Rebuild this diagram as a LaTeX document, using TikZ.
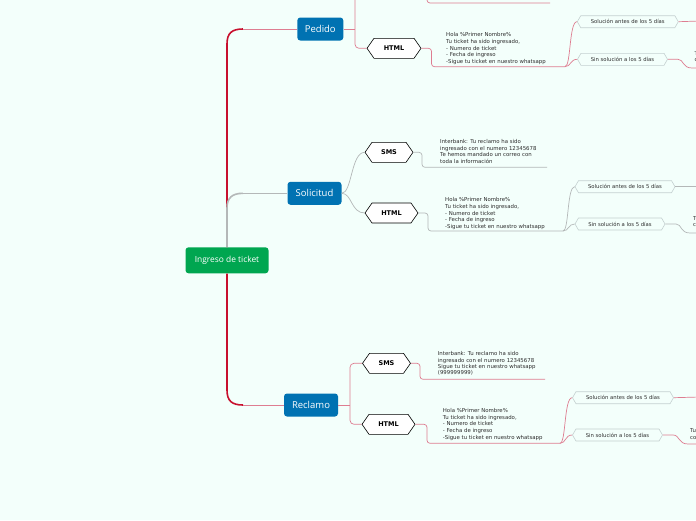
\documentclass[tikz,border=0pt]{standalone}
\usepackage{fontspec}
\setmainfont{DejaVu Sans}
\newfontfamily\topicfont{Open Sans}
\usepackage{xcolor}
\usepackage{tikz}
\usetikzlibrary{shapes.symbols}

\definecolor{bgmint}{RGB}{243,255,251}
\definecolor{topicblue}{RGB}{0,114,178}
\definecolor{rootgreen}{RGB}{0,166,80}
\definecolor{trunkred}{RGB}{200,16,46}
\definecolor{linkpink}{RGB}{222,125,145}
\definecolor{linkgrey}{RGB}{180,184,184}
\definecolor{hexedge}{RGB}{196,208,208}
\definecolor{notegrey}{RGB}{45,45,45}

\tikzset{
  rootbox/.style={rectangle, rounded corners=3pt, fill=rootgreen, text=white, font=\topicfont\fontsize{8.4}{9}\selectfont, minimum width=83pt, minimum height=26pt, inner sep=0pt},
  topicbox/.style={rectangle, rounded corners=3pt, fill=topicblue, text=white, font=\topicfont\fontsize{9.5}{10}\selectfont, minimum height=23pt, inner sep=0pt},
  channelhex/.style={shape=signal, signal to=west and east, signal pointer angle=110, draw=black, line width=0.6pt, fill=white, font=\bfseries\fontsize{6.5}{7}\selectfont, minimum height=20pt, inner sep=0pt},
  outcomehex/.style={shape=signal, signal to=west and east, signal pointer angle=120, draw=hexedge, line width=0.6pt, fill=bgmint, text=notegrey, font=\fontsize{5.3}{6}\selectfont, minimum height=12pt, inner sep=0pt},
  note/.style={anchor=north west, align=left, inner sep=0pt, text=notegrey, font=\fontsize{5.4}{6.7}\selectfont},
  pinklink/.style={draw=linkpink, line width=0.7pt},
  greylink/.style={draw=linkgrey, line width=0.7pt},
}

\begin{document}
\begin{tikzpicture}[x=1pt, y=-1pt]
    \fill[bgmint] (0,0) rectangle (696,520);
    \useasboundingbox (0,0) rectangle (696,520);
    \clip (0,0) rectangle (696,520);

    \node[rootbox] (root) at (227,260.3) {Ingreso de ticket};
    \node[topicbox, minimum width=46pt] (pedido) at (320.3,29) {Pedido};
    \node[topicbox, minimum width=54pt] (solicitud) at (314.5,193.3) {Solicitud};
    \node[topicbox, minimum width=54pt] (reclamo) at (311,405) {Reclamo};

    \node[channelhex, minimum width=54pt] (pedhtml) at (394,48.3) {HTML};
    \node[channelhex, minimum width=48pt] (solsms) at (389,152.3) {SMS};
    \node[channelhex, minimum width=53pt] (solhtml) at (391.5,213) {HTML};
    \node[channelhex, minimum width=48pt] (recsms) at (386.5,363.3) {SMS};
    \node[channelhex, minimum width=53pt] (rechtml) at (388.5,424.3) {HTML};

    \node[note] (pedhtmltext) at (446,32.5) {Hola \%Primer Nombre\%\\Tu ticket ha sido ingresado,\\- Numero de ticket\\- Fecha de ingreso\\-Sigue tu ticket en nuestro whatsapp};
    \node[note] (solsmstext) at (440,139) {Interbank: Tu reclamo ha sido\\ingresado con el numero 12345678\\Te hemos mandado un correo con\\toda la información};
    \node[note] (solhtmltext) at (445,197.5) {Hola \%Primer Nombre\%\\Tu ticket ha sido ingresado,\\- Numero de ticket\\- Fecha de ingreso\\-Sigue tu ticket en nuestro whatsapp};
    \node[note, font=\fontsize{5.4}{6.4}\selectfont] (recsmstext) at (437.7,351.3) {Interbank: Tu reclamo ha sido\\ingresado con el numero 12345678\\Sigue tu ticket en nuestro whatsapp\\(999999999)};
    \node[note] (rechtmltext) at (442.7,408) {Hola \%Primer Nombre\%\\Tu ticket ha sido ingresado,\\- Numero de ticket\\- Fecha de ingreso\\-Sigue tu ticket en nuestro whatsapp};

    \node[outcomehex, minimum width=101pt] (pedsol) at (627.8,21.7) {Solución antes de los 5 días};
    \node[outcomehex, minimum width=90pt] (pednosol) at (622.5,59.3) {Sin solución a los 5 días};
    \node[outcomehex, minimum width=100pt] (solsol) at (625,186.7) {Solución antes de los 5 días};
    \node[outcomehex, minimum width=90pt] (solnosol) at (620,224) {Sin solución a los 5 días};
    \node[outcomehex, minimum width=101pt] (recsol) at (623,397.7) {Solución antes de los 5 días};
    \node[outcomehex, minimum width=90pt] (recnosol) at (617.5,435) {Sin solución a los 5 días};

    \node[note] (pedouttext) at (694.5,51) {Tu\\co};
    \node[note] (solouttext) at (693,216) {Tu\\co};
    \node[note] (recouttext) at (690,428.7) {Tu\\co};

    \draw[trunkred, line width=1.6pt] (root.north) -- (227,44) .. controls (227,33) and (232,29) .. (243,29);
    \draw[pinklink] (243,29) -- (pedido.west);
    \draw[linkgrey, line width=1.6pt] (root.north) -- (227,208) .. controls (227,198) and (232,193.3) .. (243,193.3);
    \draw[greylink] (243,193.3) -- (solicitud.west);
    \draw[trunkred, line width=1.6pt] (root.south) -- (227,390) .. controls (227,401) and (232,405) .. (243,405);
    \draw[pinklink] (243,405) -- (reclamo.west);

    \draw[pinklink] (pedido.east) -- (355,29);
    \draw[pinklink, rounded corners=4pt] (355,-5) |- (pedhtml.west);
    \draw[pinklink, rounded corners=3pt] (427,-5) |- (550,3);
    \draw[pinklink, rounded corners=3pt] (pedhtml.east) -- (431.5,48.3) |- (565,66.7);
    \draw[pinklink] (565,66.7) .. controls (571,66.7) and (569,21.7) .. (pedsol.west);
    \draw[pinklink] (565,66.7) .. controls (571,66.7) and (570,59.3) .. (pednosol.west);
    \draw[pinklink] (pedsol.east) -- (700,21);
    \draw[pinklink] (pednosol.east) -- (678,59.3) .. controls (684,59.3) and (682,68) .. (692,68) -- (700,68);

    \draw[greylink] (solicitud.east) .. controls (352,193.3) and (351,152.3) .. (solsms.west);
    \draw[greylink] (solicitud.east) .. controls (352,193.3) and (351,213) .. (solhtml.west);
    \draw[greylink, rounded corners=3pt] (solsms.east) -- (422,152.3) |- (547,167.3);
    \draw[greylink, rounded corners=3pt] (solhtml.east) -- (428,213) |- (563,231);
    \draw[greylink] (563,231) .. controls (569,231) and (567,186.7) .. (solsol.west);
    \draw[greylink] (563,231) .. controls (569,231) and (568,224) .. (solnosol.west);
    \draw[greylink] (solsol.east) -- (700,186.7);
    \draw[greylink] (solnosol.east) -- (676,224) .. controls (682,224) and (680,233) .. (690,233) -- (700,233);

    \draw[pinklink] (reclamo.east) -- (350,405);
    \draw[pinklink, rounded corners=4pt] (recsms.west) -| (350,424.3) -- (rechtml.west);
    \draw[pinklink, rounded corners=3pt] (recsms.east) -- (420,363.3) |- (545,379.3);
    \draw[pinklink, rounded corners=3pt] (rechtml.east) -- (427,424.3) |- (560,443.3);
    \draw[pinklink] (560,443.3) .. controls (566,443.3) and (564,397.7) .. (recsol.west);
    \draw[pinklink] (560,443.3) .. controls (566,443.3) and (565,435) .. (recnosol.west);
    \draw[pinklink] (recsol.east) -- (700,397);
    \draw[pinklink] (recnosol.east) -- (673,435) .. controls (680,435) and (678,444) .. (688,444) -- (700,444);
\end{tikzpicture}
\end{document}
